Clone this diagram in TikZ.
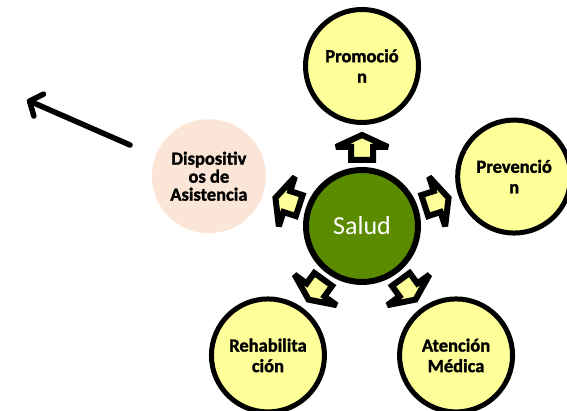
\documentclass[tikz,border=0pt]{standalone}
\usepackage{fontspec}
\setmainfont{Carlito}
\usetikzlibrary{arrows.meta,calc}
\definecolor{paleyellow}{HTML}{FFFF99}
\definecolor{olivegreen}{HTML}{5B8C00}
\definecolor{peach}{HTML}{FBE5D6}
\tikzset{
  outer/.style={circle, draw=black, line width=5pt, fill=paleyellow, minimum size=113pt, inner sep=0pt, align=center, font=\fontsize{18.5}{20.5}\selectfont\bfseries\addfontfeature{FakeBold=1.5}},
  softnode/.style={circle, fill=peach, minimum size=114pt, inner sep=0pt, align=center, font=\fontsize{18.5}{18}\selectfont\bfseries\addfontfeature{FakeBold=1.5}},
  hub/.style={circle, draw=black, line width=6pt, fill=olivegreen, minimum size=112pt, inner sep=0pt, text=white, font=\fontsize{26}{30}\selectfont},
  blockarrow/.style={draw=black, fill=paleyellow, line width=6pt, line join=miter, miter limit=3},
  bigarrow/.style={line width=5.5pt, line cap=round, -{Straight Barb[length=10pt,width=24pt,line cap=round,line join=round]}}
}
\begin{document}
\begin{tikzpicture}[x=1pt,y=1pt]
\useasboundingbox (0,0) rectangle (567,411);
\node[hub] (salud) at (362,185) {Salud};
\node[outer] (promo) at ($(salud.center)+(90:160)$) {Promoció\\n};
\node[outer] (prev) at ($(salud.center)+(18:160)$) {Prevenció\\n};
\node[outer] (aten) at ($(salud.center)+(-54:160)$) {Atención\\Médica};
\node[outer] (rehab) at ($(salud.center)+(-126:160)$) {Rehabilita\\ción};
\node[softnode] (disp) at ($(salud.center)+(162:161)$) {Dispositiv\\os de\\Asistencia};
\foreach \ang in {90,18,-54,-126,162}{
  \draw[blockarrow, shift={(salud.center)}, rotate=\ang]
    (66,-11) -- (79,-11) -- (79,-26) -- (91,0) -- (79,26) -- (79,11) -- (66,11) -- cycle;
}
\coordinate (tailpt) at (130,266);
\coordinate (tippt) at (27,311);
\draw[bigarrow] (tailpt) -- (tippt);
\end{tikzpicture}
\end{document}
